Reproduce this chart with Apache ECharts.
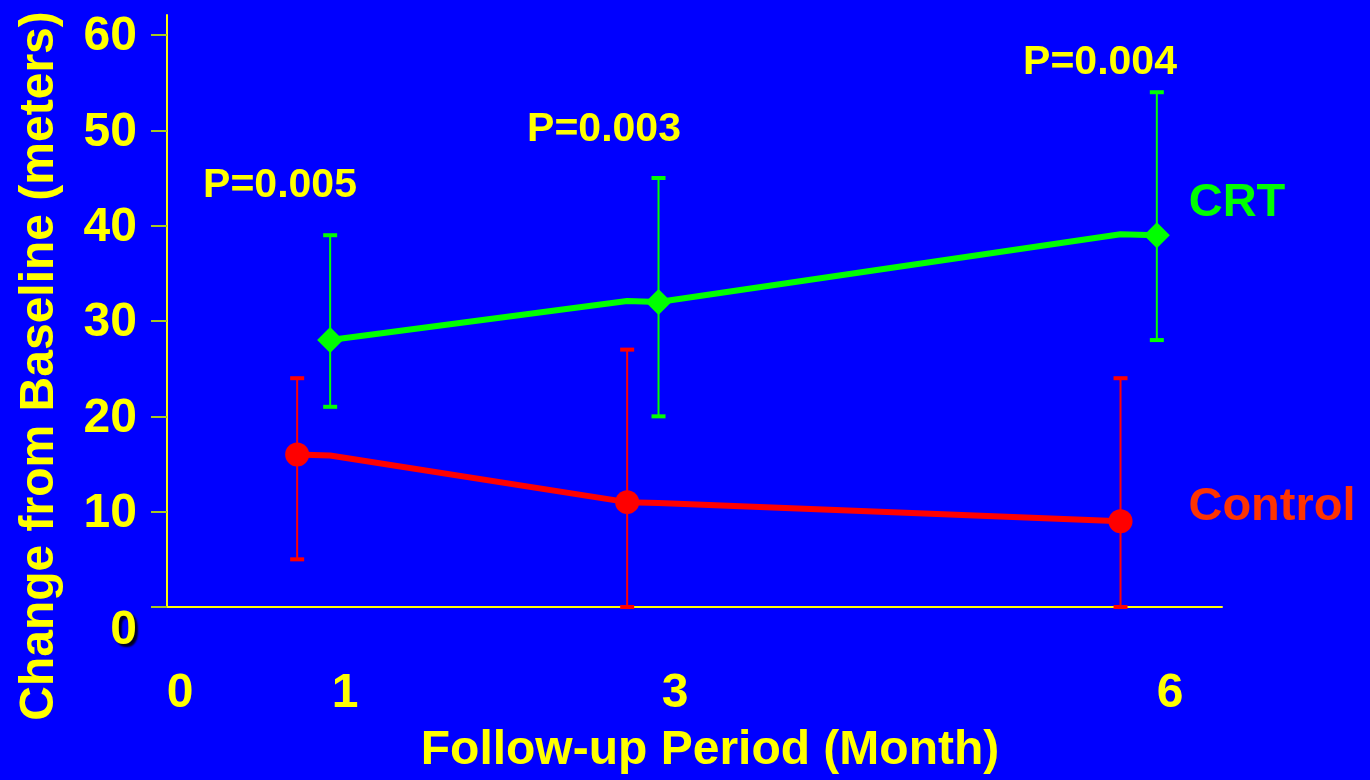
<!DOCTYPE html>
<html>
<head>
<meta charset="utf-8">
<script src="https://cdn.jsdelivr.net/npm/echarts@6/dist/echarts.min.js"></script>
<style>
  html, body { margin: 0; padding: 0; background: #0000ff; }
  #chart { width: 1370px; height: 780px; }
</style>
</head>
<body>
<div id="chart"></div>
<script>
// Six-minute walk change from baseline, CRT vs control, by follow-up month
const xTickValues = [0, 1, 3, 6];
const yTickValues = [0, 10, 20, 30, 40, 50, 60];

// CRT group: plotted month position, mean and error-bar limits (meters)
const crtMonth = [0.91, 2.9, 5.92];
const crtMean  = [28, 32, 39];
const crtLow   = [21, 20, 28];
const crtHigh  = [39, 45, 54];

// Control group
const controlMonth = [0.71, 2.71, 5.7];
const controlMean  = [16, 11, 9];
const controlLow   = [5, 0, 0];
const controlHigh  = [24, 27, 24];

// Connecting polylines (vertices of each drawn trend line)
const crtPathMonth = [0.91, 2.71, 2.9, 5.7, 5.92];
const crtPathValue = [28, 32.1, 32, 39.1, 39];
const controlPathMonth = [0.71, 0.91, 2.71, 2.9, 5.7];
const controlPathValue = [16, 15.9, 11, 10.9, 9];

// Text annotations
const pValues = ['P=0.005', 'P=0.003', 'P=0.004'];
const groupNames = ['CRT', 'Control'];
const xTitle = 'Follow-up Period (Month)';
const yTitle = 'Change from Baseline (meters)';

const FONT = '"Liberation Sans", Arial, Helvetica, sans-serif';
const YELLOW = '#ffff00';
const GREEN = '#00ff00';
const RED = '#ff0000';

const zip = (a, b) => a.map((v, i) => [v, b[i]]);
const zip3 = (a, b, c) => a.map((v, i) => [v, b[i], c[i]]);

function errorBarRenderer(color) {
  return function (params, api) {
    const x = api.value(0);
    const lo = api.coord([x, api.value(1)]);
    const hi = api.coord([x, api.value(2)]);
    const capHalf = 7;
    return {
      type: 'group',
      children: [
        { type: 'line', shape: { x1: lo[0], y1: lo[1], x2: hi[0], y2: hi[1] },
          style: { stroke: color, lineWidth: 2 } },
        { type: 'line', shape: { x1: hi[0] - capHalf, y1: hi[1], x2: hi[0] + capHalf, y2: hi[1] },
          style: { stroke: color, lineWidth: 4 } },
        { type: 'line', shape: { x1: lo[0] - capHalf, y1: lo[1], x2: lo[0] + capHalf, y2: lo[1] },
          style: { stroke: color, lineWidth: 4 } }
      ]
    };
  };
}

const chart = echarts.init(document.getElementById('chart'));

chart.setOption({
  backgroundColor: '#0000ff',
  animation: false,
  textStyle: { fontFamily: FONT },
  grid: { left: 167, right: 148, top: 15, bottom: 173, outerBoundsMode: 'none' },
  xAxis: {
    type: 'value',
    min: -0.0788,
    max: 6.315,
    axisLine: { show: true, onZero: false, lineStyle: { color: YELLOW, width: 2 } },
    axisTick: { show: false },
    splitLine: { show: false },
    axisLabel: {
      customValues: xTickValues,
      margin: 63,
      color: YELLOW,
      fontSize: 48,
      fontWeight: 'bold',
      fontFamily: FONT,
      lineHeight: 48
    }
  },
  yAxis: {
    type: 'value',
    min: 0,
    max: 62.1,
    axisLine: { show: true, onZero: false, lineStyle: { color: YELLOW, width: 2 } },
    axisTick: {
      show: true,
      customValues: yTickValues,
      length: 16,
      lineStyle: { color: '#a8c820', width: 2 }
    },
    splitLine: { show: false },
    axisLabel: {
      customValues: yTickValues,
      margin: 30,
      color: YELLOW,
      fontSize: 48,
      fontWeight: 'bold',
      fontFamily: FONT,
      lineHeight: 48,
      padding: [4, 0, 0, 0],
      formatter: v => (v === 0 ? '{z|0}' : String(v)),
      rich: {
        z: {
          color: YELLOW,
          fontSize: 48,
          fontWeight: 'bold',
          fontFamily: FONT,
          lineHeight: 48,
          padding: [44, 0, 0, 0],
          textShadowColor: '#000022',
          textShadowOffsetX: 3,
          textShadowOffsetY: 3,
          textShadowBlur: 2
        }
      }
    }
  },
  series: [
    {
      type: 'custom',
      name: 'CRT error',
      renderItem: errorBarRenderer(GREEN),
      data: zip3(crtMonth, crtLow, crtHigh),
      encode: { x: 0, y: [1, 2] },
      z: 1
    },
    {
      type: 'custom',
      name: 'Control error',
      renderItem: errorBarRenderer(RED),
      data: zip3(controlMonth, controlLow, controlHigh),
      encode: { x: 0, y: [1, 2] },
      z: 1
    },
    {
      type: 'line',
      name: 'CRT line',
      data: zip(crtPathMonth, crtPathValue),
      showSymbol: false,
      lineStyle: { color: GREEN, width: 6 },
      z: 2
    },
    {
      type: 'line',
      name: 'Control line',
      data: zip(controlPathMonth, controlPathValue),
      showSymbol: false,
      lineStyle: { color: RED, width: 6 },
      z: 2
    },
    {
      type: 'scatter',
      name: 'CRT',
      data: zip(crtMonth, crtMean),
      symbol: 'diamond',
      symbolSize: 26,
      itemStyle: { color: GREEN, opacity: 1 },
      z: 3
    },
    {
      type: 'scatter',
      name: 'Control',
      data: zip(controlMonth, controlMean),
      symbol: 'circle',
      symbolSize: 24,
      itemStyle: { color: RED, opacity: 1 },
      z: 3
    }
  ],
  graphic: [
    { type: 'text', x: 280, y: 186, style: { text: pValues[0], fill: YELLOW, font: 'bold 41px ' + FONT, align: 'center', verticalAlign: 'middle' } },
    { type: 'text', x: 604, y: 130, style: { text: pValues[1], fill: YELLOW, font: 'bold 41px ' + FONT, align: 'center', verticalAlign: 'middle' } },
    { type: 'text', x: 1100, y: 63, style: { text: pValues[2], fill: YELLOW, font: 'bold 41px ' + FONT, align: 'center', verticalAlign: 'middle' } },
    { type: 'text', x: 1237, y: 203, style: { text: groupNames[0], fill: GREEN, font: 'bold 47px ' + FONT, align: 'center', verticalAlign: 'middle' } },
    { type: 'text', x: 1272, y: 507, style: { text: groupNames[1], fill: '#ff3300', font: 'bold 47px ' + FONT, align: 'center', verticalAlign: 'middle' } },
    { type: 'text', x: 710, y: 751, style: { text: xTitle, fill: YELLOW, font: 'bold 48px ' + FONT, align: 'center', verticalAlign: 'middle' } },
    { type: 'text', x: 40, y: 366, rotation: Math.PI / 2, style: { text: yTitle, fill: YELLOW, font: 'bold 48px ' + FONT, align: 'center', verticalAlign: 'middle' } }
  ]
});
</script>
</body>
</html>
